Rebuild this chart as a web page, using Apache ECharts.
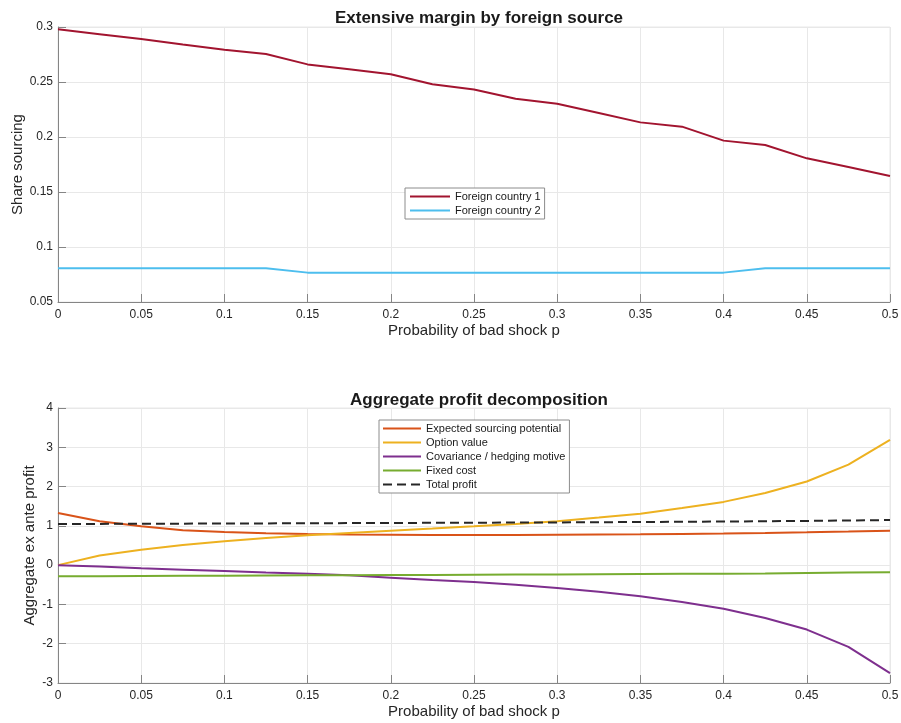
<!DOCTYPE html>
<html><head><meta charset="utf-8">
<script src="https://cdn.jsdelivr.net/npm/echarts@6/dist/echarts.min.js"></script>
<style>html,body{margin:0;padding:0;background:#fff}#c{width:901px;height:723px}</style>
</head><body><div id="c"></div>
<script>
const pValues = [0,0.025,0.05,0.075,0.1,0.125,0.15,0.175,0.2,0.225,0.25,0.275,0.3,0.325,0.35,0.375,0.4,0.425,0.45,0.475,0.5];
const country1 = [0.298,0.2935,0.289,0.284,0.2794,0.2755,0.266,0.2615,0.257,0.248,0.2432,0.2348,0.2303,0.2218,0.2133,0.2094,0.1967,0.1927,0.1806,0.1727,0.1645];
const country2 = [0.0806,0.0806,0.0806,0.0806,0.0806,0.0806,0.0767,0.0767,0.0767,0.0767,0.0767,0.0767,0.0767,0.0767,0.0767,0.0767,0.0767,0.0806,0.0806,0.0806,0.0806];
const expectedPotential = [1.327,1.115,0.988,0.886,0.844,0.81,0.793,0.78,0.775,0.77,0.768,0.77,0.773,0.778,0.785,0.795,0.805,0.818,0.835,0.855,0.878];
const optionValue = [0,0.246,0.394,0.513,0.606,0.69,0.76,0.82,0.878,0.93,0.988,1.047,1.12,1.21,1.31,1.455,1.61,1.836,2.13,2.56,3.19];
const covariance = [0,-0.035,-0.077,-0.115,-0.15,-0.19,-0.22,-0.26,-0.32,-0.38,-0.43,-0.5,-0.58,-0.675,-0.79,-0.94,-1.11,-1.345,-1.64,-2.08,-2.75];
const fixedCost = [-0.285,-0.28,-0.276,-0.272,-0.268,-0.264,-0.26,-0.256,-0.252,-0.248,-0.244,-0.24,-0.236,-0.232,-0.227,-0.222,-0.217,-0.21,-0.2,-0.19,-0.18];
const totalProfit = [1.047,1.05,1.053,1.056,1.06,1.063,1.066,1.07,1.073,1.077,1.08,1.084,1.088,1.093,1.098,1.103,1.11,1.118,1.126,1.136,1.148];
const xTicks = {min:0, max:0.5, interval:0.05};
const topY = {min:0.05, max:0.3, interval:0.05};
const botY = {min:-3, max:4, interval:1};

const FONT = 'Liberation Sans, Arial, Helvetica, sans-serif';
const AX = '#858585';
const pair = a => pValues.map((p,i)=>[p,a[i]]);
function xAxis(gi){
  return {type:'value', gridIndex:gi, min:xTicks.min, max:xTicks.max, interval:xTicks.interval,
    name:'Probability of bad shock p', nameLocation:'middle', nameGap:21, nameMoveOverlap:false,
    nameTextStyle:{fontSize:15, color:'#262626', fontFamily:FONT},
    axisLine:{show:true, onZero:false, lineStyle:{color:AX, width:1}},
    axisTick:{show:true, inside:true, length:8, lineStyle:{color:AX}},
    axisLabel:{fontSize:12, color:'#262626', fontFamily:FONT, margin:7},
    splitLine:{show:true, lineStyle:{color:'#e8e8e8', width:1}}};
}
function yAxis(gi, r, name, gap){
  return {type:'value', gridIndex:gi, min:r.min, max:r.max, interval:r.interval,
    name:name, nameLocation:'middle', nameGap:gap, nameMoveOverlap:false,
    nameTextStyle:{fontSize:15, color:'#262626', fontFamily:FONT},
    axisLine:{show:true, onZero:false, lineStyle:{color:AX, width:1}},
    axisTick:{show:true, inside:true, length:8, lineStyle:{color:AX}},
    axisLabel:{fontSize:12, color:'#262626', fontFamily:FONT, margin:5},
    splitLine:{show:true, lineStyle:{color:'#e8e8e8', width:1}}};
}
function line(name, data, color, xi, dash){
  return {type:'line', name:name, xAxisIndex:xi, yAxisIndex:xi, data:pair(data), showSymbol:false, symbol:'none',
    lineStyle:{color:color, width:2, type: dash?[9,5]:'solid'}, itemStyle:{color:color}, animation:false, silent:true};
}
const legendCommon = {orient:'vertical', itemHeight:10, itemGap:3,
  borderColor:'#8c8c8c', borderWidth:1, backgroundColor:'#fff',
  itemStyle:{color:'rgba(0,0,0,0)', borderWidth:0, opacity:0},
  textStyle:{fontSize:11, color:'#1a1a1a', fontFamily:FONT}, selectedMode:false};
const chart = echarts.init(document.getElementById('c'), null, {renderer:'canvas'});
chart.setOption({
  backgroundColor:'#fff',
  animation:false,
  title:[
    {text:'Extensive margin by foreign source', left:474, top:5, textAlign:'center',
     textStyle:{fontSize:17, fontWeight:'bold', color:'#1a1a1a', fontFamily:FONT}},
    {text:'Aggregate profit decomposition', left:474, top:387, textAlign:'center',
     textStyle:{fontSize:17, fontWeight:'bold', color:'#1a1a1a', fontFamily:FONT}}
  ],
  grid:[
    {left:58, right:11, top:27, bottom:421, show:true, borderColor:'#e8e8e8', borderWidth:1, outerBoundsMode:'none', containLabel:false},
    {left:58, right:11, top:408, bottom:40, show:true, borderColor:'#e8e8e8', borderWidth:1, outerBoundsMode:'none', containLabel:false}
  ],
  xAxis:[xAxis(0), xAxis(1)],
  yAxis:[yAxis(0, topY, 'Share sourcing', 33), yAxis(1, botY, 'Aggregate ex ante profit', 21)],
  legend:[
    Object.assign({}, legendCommon, {data:['Foreign country 1','Foreign country 2'], left:405, top:188,
     itemWidth:40, padding:[3,4,3,4]}),
    Object.assign({}, legendCommon, {data:['Expected sourcing potential','Option value','Covariance / hedging motive','Fixed cost','Total profit'],
     left:379, top:420, itemWidth:38, padding:[3,4,3,3]})
  ],
  series:[
    line('Foreign country 1', country1, '#A2142F', 0),
    line('Foreign country 2', country2, '#4DBEEE', 0),
    line('Expected sourcing potential', expectedPotential, '#D95319', 1),
    line('Option value', optionValue, '#EDB120', 1),
    line('Covariance / hedging motive', covariance, '#7E2F8E', 1),
    line('Fixed cost', fixedCost, '#77AC30', 1),
    line('Total profit', totalProfit, '#262626', 1, true)
  ]
});
</script></body></html>
